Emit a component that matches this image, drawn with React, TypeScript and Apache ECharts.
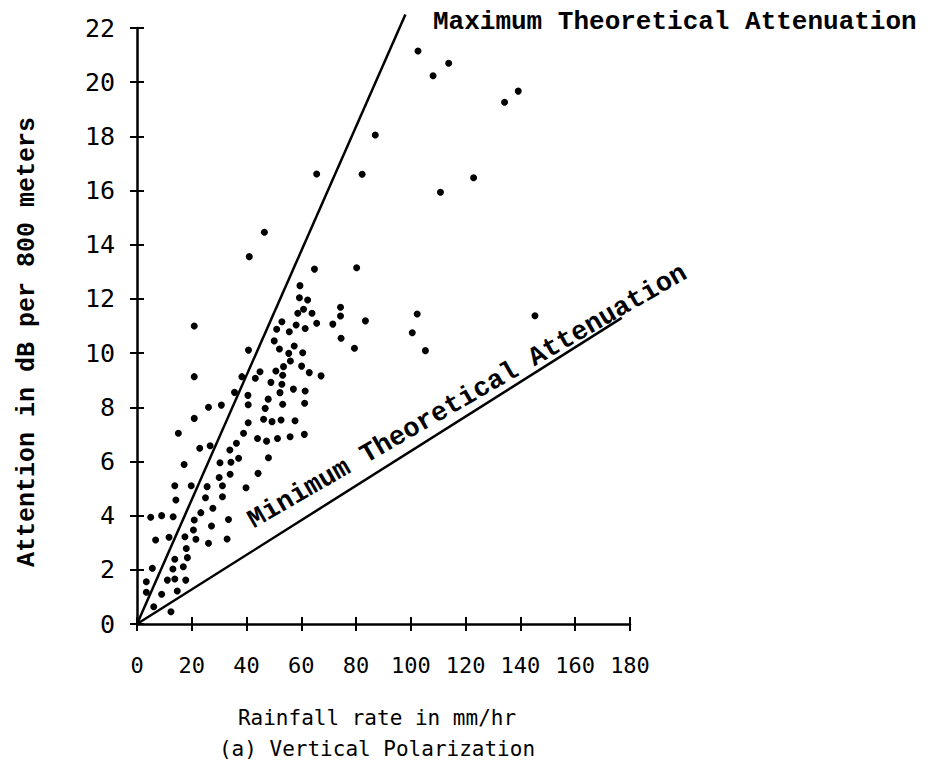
import React, { useEffect, useRef } from "react";
import * as echarts from "echarts";

// Rainfall rate (mm/hr), attenuation (dB per 800 m)
const observations: [number, number][] = [
  [15.1, 7.04], [22.9, 6.49], [26.7, 6.58], [17.2, 5.89], [33.9, 6.42], [36.3, 6.67],
  [38.9, 7.04], [40.6, 7.43], [44.0, 6.85], [47.3, 6.75], [51.3, 6.85], [34.3, 5.97],
  [37.1, 6.12], [30.3, 5.95], [48.0, 6.14], [30.0, 5.41], [34.0, 5.53], [44.2, 5.56],
  [13.8, 5.10], [19.8, 5.10], [25.6, 5.07], [31.2, 5.10], [39.8, 5.03], [14.2, 4.58],
  [25.0, 4.66], [31.2, 4.70], [27.7, 4.27], [23.3, 4.11], [5.0, 3.94], [9.0, 4.0],
  [13.2, 3.96], [20.9, 3.84], [27.2, 3.62], [33.4, 3.86], [6.8, 3.10], [11.7, 3.20],
  [17.5, 3.22], [21.5, 3.13], [20.6, 3.47], [26.1, 2.98], [32.9, 3.14], [18.0, 2.79],
  [18.4, 2.45], [13.8, 2.39], [5.6, 2.06], [13.1, 2.03], [16.9, 2.11], [3.4, 1.56],
  [11.1, 1.62], [13.8, 1.66], [17.8, 1.62], [3.4, 1.17], [9.0, 1.10], [14.7, 1.22],
  [6.1, 0.64], [12.4, 0.45], [20.9, 11.0], [41.0, 13.56], [40.7, 10.11], [20.9, 9.13],
  [38.3, 9.13], [43.2, 9.07], [35.6, 8.55], [40.5, 8.44], [20.9, 7.59], [26.1, 8.0],
  [30.8, 8.08], [40.6, 8.09], [64.8, 13.1], [80.2, 13.15], [59.5, 12.49], [59.3, 12.04],
  [62.3, 11.96], [60.8, 11.62], [58.7, 11.47], [63.9, 11.47], [74.3, 11.69], [74.3, 11.37],
  [83.4, 11.19], [52.9, 11.16], [51.0, 10.88], [58.1, 11.04], [55.6, 10.79], [61.4, 10.91],
  [65.6, 11.1], [71.5, 11.07], [74.5, 10.55], [79.4, 10.18], [50.1, 10.45], [52.0, 10.15],
  [55.4, 9.99], [57.4, 10.26], [60.5, 10.01], [56.0, 9.71], [53.5, 9.5], [60.1, 9.52],
  [62.9, 9.28], [67.2, 9.16], [44.9, 9.31], [50.7, 9.34], [53.2, 9.18], [48.9, 8.92],
  [52.9, 8.85], [52.2, 8.54], [57.1, 8.67], [61.4, 8.6], [47.9, 8.3], [53.2, 8.11],
  [61.2, 8.15], [46.8, 7.96], [46.2, 7.56], [49.3, 7.47], [52.6, 7.53], [57.7, 7.5],
  [55.9, 6.91], [61.1, 7.0], [65.6, 16.61], [46.5, 14.46], [102.6, 21.15], [113.8, 20.7],
  [108.1, 20.24], [139.2, 19.67], [134.2, 19.26], [87.0, 18.05], [82.2, 16.6], [122.9, 16.47],
  [110.8, 15.94], [102.3, 11.44], [100.5, 10.75], [105.3, 10.09], [145.3, 11.38],
];

const maxTheoretical: [number, number][] = [[0, 0], [98, 22.5]];
const minTheoretical: [number, number][] = [[0, 0], [177, 11.3]];

const xTitle = "Rainfall rate in mm/hr";
const caption = "(a) Vertical Polarization";
const yTitle = "Attention in dB per 800 meters";
const maxLabel = "Maximum Theoretical Attenuation";
const minLabel = "Minimum Theoretical Attenuation";

const sansMono = "'DejaVu Sans Mono', monospace";
const typeMono = "'Liberation Mono', 'Courier New', monospace";

export default function App() {
  const ref = useRef<HTMLDivElement>(null);
  useEffect(() => {
    const chart = echarts.init(ref.current!, null, { renderer: "svg" });
    const tickStyle = { color: "#000", width: 2 };
    const lineStyle = { color: "#000", width: 2.5 };
    chart.setOption({
      animation: false,
      backgroundColor: "#fff",
      grid: { left: 137, right: 306, top: 28, bottom: 143 },
      xAxis: [
        {
          type: "value", min: 0, max: 180, interval: 20,
          axisLine: { show: true, onZero: false, lineStyle },
          axisTick: { show: true, length: 7, lineStyle: tickStyle },
          axisLabel: { margin: 30, fontFamily: sansMono, fontSize: 22, color: "#000" },
          splitLine: { show: false },
        },
        {
          type: "value", min: 0, max: 180, interval: 20, position: "bottom",
          axisLine: { show: false, onZero: false },
          axisTick: { show: true, inside: true, length: 7, lineStyle: tickStyle },
          axisLabel: { show: false },
          splitLine: { show: false },
        },
      ],
      yAxis: [
        {
          type: "value", min: 0, max: 22, interval: 2,
          axisLine: { show: true, onZero: false, lineStyle },
          axisTick: { show: true, length: 7, lineStyle: tickStyle },
          axisLabel: { margin: 22, fontFamily: sansMono, fontSize: 25, color: "#000" },
          splitLine: { show: false },
        },
        {
          type: "value", min: 0, max: 22, interval: 2, position: "left",
          axisLine: { show: false, onZero: false },
          axisTick: { show: true, inside: true, length: 7, lineStyle: tickStyle },
          axisLabel: { show: false },
          splitLine: { show: false },
        },
      ],
      series: [
        {
          type: "scatter", data: observations, symbolSize: 7,
          itemStyle: { color: "#000", opacity: 1 }, xAxisIndex: 0, yAxisIndex: 0,
        },
        {
          type: "line", data: maxTheoretical, showSymbol: false, clip: false,
          lineStyle, xAxisIndex: 0, yAxisIndex: 0,
        },
        {
          type: "line", data: minTheoretical, showSymbol: false, clip: false,
          lineStyle, xAxisIndex: 0, yAxisIndex: 0,
        },
      ],
      graphic: [
        {
          type: "text", x: 433, y: 22,
          style: { text: maxLabel, font: `bold 26px ${typeMono}`, fill: "#000", textAlign: "left", textVerticalAlign: "middle", align: "left", verticalAlign: "middle" },
        },
        {
          type: "text", x: 257, y: 534, rotation: (30 * Math.PI) / 180,
          style: { text: minLabel, font: `bold 27px ${typeMono}`, fill: "#000", textAlign: "left", textVerticalAlign: "bottom", align: "left", verticalAlign: "bottom" },
        },
        {
          type: "text", x: 27, y: 342, rotation: Math.PI / 2,
          style: { text: yTitle, font: `bold 25px ${typeMono}`, fill: "#000", textAlign: "center", textVerticalAlign: "middle", align: "center", verticalAlign: "middle" },
        },
        {
          type: "text", x: 377, y: 718,
          style: { text: xTitle, font: `21px ${sansMono}`, fill: "#000", textAlign: "center", textVerticalAlign: "middle", align: "center", verticalAlign: "middle" },
        },
        {
          type: "text", x: 377, y: 749,
          style: { text: caption, font: `21px ${sansMono}`, fill: "#000", textAlign: "center", textVerticalAlign: "middle", align: "center", verticalAlign: "middle" },
        },
      ],
    });
    return () => chart.dispose();
  }, []);
  return (
    <div
      ref={ref}
      style={{ position: "fixed", left: 0, top: 0, width: 936, height: 767, background: "#fff" }}
    />
  );
}
